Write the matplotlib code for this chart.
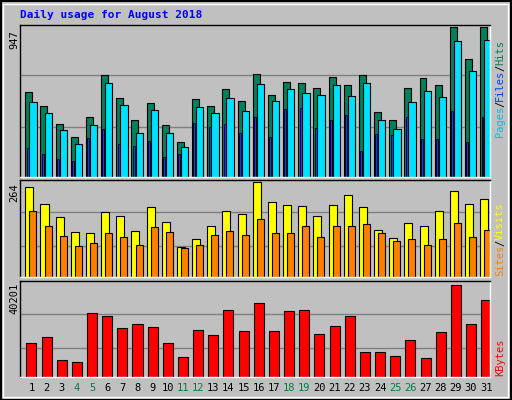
import matplotlib
matplotlib.use("Agg")
import matplotlib.pyplot as plt
import numpy as np

days = list(range(1, 32))
weekend = [4, 5, 11, 12, 18, 19, 25, 26]
hits_y = [280,322,373,412,355,229,298,361,313,376,427,301,322,271,307,226,289,250,253,268,235,259,229,340,361,268,238,259,88,184,88]
files_y = [310,343,391,433,376,253,319,400,334,400,442,325,343,298,337,256,307,271,283,289,259,292,253,361,388,310,277,295,130,217,127]
pages_y = [445,463,478,484,415,388,433,439,424,472,463,370,382,373,400,355,412,331,328,385,364,349,454,403,406,355,418,418,337,427,355]
hits = [round((530 - v) / 442 * 947) for v in hits_y]
files = [round((530 - v) / 442 * 947) for v in files_y]
pages = [round((530 - v) / 442 * 947) for v in pages_y]
sites_y = [43,91,130,172,175,115,127,169,100,145,217,193,154,112,121,28,85,94,97,127,94,67,100,166,190,148,154,112,55,91,76]
visits_y = [112,157,184,214,205,175,187,211,160,172,220,211,181,169,181,136,175,175,154,187,157,154,151,175,199,193,211,193,148,187,166]
sites = [round((304 - v) / 276 * 264) for v in sites_y]
visits = [round((304 - v) / 276 * 264) for v in visits_y]
kb_y = [499,481,550,556,412,421,457,445,454,499,541,460,475,403,463,382,463,406,403,472,451,421,526,526,538,490,544,466,328,445,373]
kbytes = [round((601 - v) / 273 * 40201) for v in kb_y]

W, H = 512, 400
fig = plt.figure(figsize=(W / 100, H / 100), dpi=100)
fig.patch.set_facecolor("#C0C0C0")
bg = "#C0C0C0"

def ax_px(x0, y0, x1, y1):
    ax = fig.add_axes([x0 / W, 1 - y1 / H, (x1 - x0) / W, (y1 - y0) / H])
    ax.set_facecolor(bg)
    for s in ["left", "top"]:
        ax.spines[s].set_color("black")
    for s in ["right", "bottom"]:
        ax.spines[s].set_color("white")
    for s in ax.spines.values():
        s.set_linewidth(1)
    ax.set_xticks([]); ax.set_yticks([])
    ax.set_xlim(0, 31)
    return ax

x = np.arange(31)
mono = "DejaVu Sans Mono"

# top panel
ax1 = ax_px(20, 25, 490, 177)
top = 947 * 442 / 442
ax1.set_ylim(0, 947 * 447 / 442)
for f in (0.335, 0.68):
    ax1.axhline(947 * f, color="#808080", lw=1, zorder=0)
ax1.bar(x + 0.35, hits, 0.46, align="edge", color="#00805C", edgecolor="black", lw=0.8)
ax1.bar(x + 0.62, files, 0.48, align="edge", color="#00E0FF", edgecolor="black", lw=0.8)
ax1.bar(x + 0.44, pages, 0.13, align="edge", color="#0040FF", edgecolor="black", lw=0.6)

# middle panel
ax2 = ax_px(20, 180, 490, 277)
ax2.set_ylim(0, 264 * 282 / 276)
for f in (0.326, 0.685):
    ax2.axhline(264 * f, color="#808080", lw=1, zorder=0)
ax2.bar(x + 0.35, sites, 0.53, align="edge", color="#FFFF00", edgecolor="black", lw=0.8)
ax2.bar(x + 0.62, visits, 0.46, align="edge", color="#FF8000", edgecolor="black", lw=0.8)

# bottom panel
ax3 = ax_px(20, 281, 490, 377)
ax3.set_ylim(0, 40201 * 285 / 273)
for f in (0.319, 0.681):
    ax3.axhline(40201 * f, color="#808080", lw=1, zorder=0)
ax3.bar(x + 0.42, kbytes, 0.66, align="edge", color="#FF0000", edgecolor="black", lw=0.8)

for d in days:
    xpix = 20 + (d - 1 + 0.75) * 470 / 31
    fig.text(xpix / W, 1 - 388 / H, str(d), ha="center", va="center", fontsize=7.5,
             family=mono, color="#008040" if d in weekend else "black")

fig.text(20 / W, 1 - 15 / H, "Daily usage for August 2018", fontsize=8, family=mono,
         weight="bold", color="#0000FF", va="center")
fig.text(14 / W, 1 - 40 / H, "947", rotation=90, fontsize=7.5, family=mono, ha="center", va="center")
fig.text(14 / W, 1 - 193 / H, "264", rotation=90, fontsize=7.5, family=mono, ha="center", va="center")
fig.text(14 / W, 1 - 298 / H, "40201", rotation=90, fontsize=7.5, family=mono, ha="center", va="center")

def rtext(parts, ytop):
    y = ytop
    for s, c in parts:
        t = fig.text(500 / W, 1 - y / H, s, rotation=90, fontsize=7.5, family=mono,
                     color=c, ha="center", va="top")
        y += len(s) * 6.0
rtext([("Hits", "#00805C"), (" / ", "black"), ("Files", "#0040FF"), (" / ", "black"), ("Pages", "#00C0E0")][::-1], 0) if False else None

# right labels, bottom-to-top text: place reading from bottom
def rlabel(full, colors, ybot):
    y = ybot
    for s, c in colors:
        fig.text(500 / W, 1 - y / H, s, rotation=90, fontsize=7.5, family=mono,
                 color=c, ha="center", va="bottom")
        y -= len(s) * 6.0

rlabel(None, [("Pages", "#00C0E0"), ("/", "black"), ("Files", "#0040FF"), ("/", "black"), ("Hits", "#00805C")], 137)
rlabel(None, [("Sites", "#FF8000"), ("/", "black"), ("Visits", "#FFFF00")], 276)
rlabel(None, [("KBytes", "#FF0000")], 376)

# border
fig.add_artist(plt.Rectangle((0.5 / W, 0.5 / H), (W - 1.5) / W, (H - 1.5) / H, fill=False,
                             edgecolor="black", lw=1.5, transform=fig.transFigure))
fig.add_artist(plt.Rectangle((3 / W, 3 / H), (W - 7) / W, (H - 7) / H, fill=False,
                             edgecolor="white", lw=1, transform=fig.transFigure))

fig.savefig("out.png", dpi=100, facecolor=fig.get_facecolor())
